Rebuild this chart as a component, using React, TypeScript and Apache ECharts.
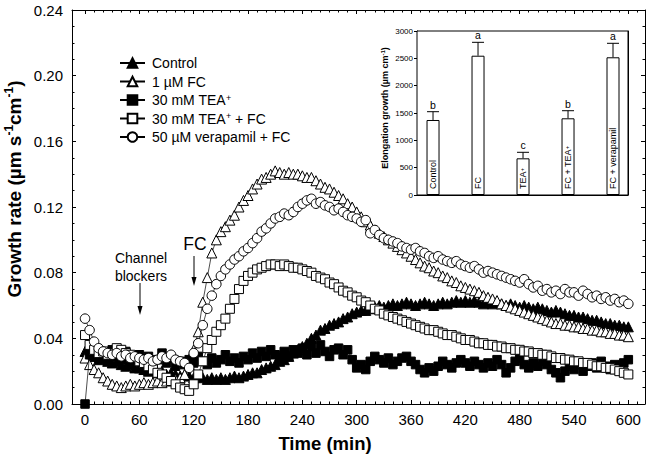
import React, { useEffect, useRef } from 'react';
import * as echarts from 'echarts';

const FONT = '"Liberation Sans", Arial, Helvetica, sans-serif';

// time axis: one reading every 5 min
const times = Array.from({ length: 121 }, (_, i) => i * 5);

const controlVals = [
  0.032, 0.030, 0.029, 0.027, 0.028, 0.026, 0.025, 0.026, 0.024, 0.023, 0.024, 0.022,
  0.022, 0.021, 0.020, 0.021, 0.019, 0.020, 0.018, 0.019, 0.018, 0.017, 0.018, 0.017,
  0.016, 0.017, 0.016, 0.015, 0.016, 0.015, 0.016, 0.015, 0.016, 0.017, 0.016, 0.017,
  0.018, 0.019, 0.019, 0.021, 0.022, 0.023, 0.024, 0.026, 0.027, 0.029, 0.031, 0.033,
  0.035, 0.037, 0.040, 0.042, 0.045, 0.046, 0.048, 0.049, 0.050, 0.052, 0.053, 0.055,
  0.056, 0.057, 0.057, 0.058, 0.059, 0.060, 0.059, 0.060, 0.061, 0.060, 0.061, 0.062,
  0.061, 0.060, 0.061, 0.062, 0.061, 0.060, 0.061, 0.062, 0.061, 0.062, 0.063, 0.062,
  0.063, 0.062, 0.063, 0.062, 0.061, 0.062, 0.061, 0.062, 0.061, 0.060, 0.061, 0.060,
  0.059, 0.060, 0.059, 0.058, 0.059, 0.058, 0.057, 0.056, 0.057, 0.056, 0.055, 0.054,
  0.054, 0.053, 0.053, 0.052, 0.051, 0.051, 0.050, 0.049, 0.049, 0.048, 0.048, 0.047,
  0.047,
];

const fcVals = [
  0.028, 0.024, 0.021, 0.019, 0.016, 0.014, 0.012, 0.011, 0.010, 0.011, 0.012, 0.011,
  0.012, 0.013, 0.012, 0.013, 0.014, 0.013, 0.014, 0.015, 0.015, 0.016, 0.018, 0.024,
  0.033, 0.044, 0.062, 0.077, 0.092, 0.100, 0.105, 0.108, 0.112, 0.115, 0.120, 0.124,
  0.127, 0.131, 0.134, 0.137, 0.138, 0.140, 0.142, 0.141, 0.140, 0.141, 0.140, 0.140,
  0.139, 0.138, 0.138, 0.136, 0.134, 0.132, 0.131, 0.129, 0.127, 0.125, 0.122, 0.120,
  0.117, 0.114, 0.111, 0.109, 0.106, 0.104, 0.102, 0.100, 0.098, 0.096, 0.094, 0.092,
  0.090, 0.088, 0.086, 0.084, 0.083, 0.081, 0.080, 0.078, 0.077, 0.075, 0.074, 0.072,
  0.071, 0.070, 0.069, 0.068, 0.066, 0.065, 0.064, 0.063, 0.061, 0.060, 0.059, 0.058,
  0.057, 0.056, 0.055, 0.054, 0.053, 0.052, 0.051, 0.050, 0.049, 0.049, 0.048, 0.048,
  0.047, 0.047, 0.046, 0.046, 0.045, 0.045, 0.044, 0.044, 0.043, 0.043, 0.042, 0.042,
  0.041,
];

const teaVals = [
  0.000, 0.030, 0.033, 0.028, 0.031, 0.026, 0.033, 0.029, 0.027, 0.032, 0.025, 0.028,
  0.030, 0.026, 0.029, 0.024, 0.027, 0.031, 0.025, 0.028, 0.023, 0.026, 0.024, 0.027,
  0.025, 0.029, 0.026, 0.024, 0.028, 0.025, 0.027, 0.030, 0.026, 0.028, 0.025, 0.029,
  0.027, 0.031, 0.028, 0.032, 0.029, 0.033, 0.030, 0.028, 0.032, 0.029, 0.033, 0.031,
  0.034, 0.030, 0.035, 0.031, 0.036, 0.032, 0.029, 0.033, 0.034, 0.030, 0.033, 0.027,
  0.022, 0.024, 0.021, 0.026, 0.029, 0.027, 0.025, 0.028, 0.024, 0.026, 0.028, 0.029,
  0.026, 0.024, 0.021, 0.019, 0.022, 0.020, 0.023, 0.026, 0.024, 0.022, 0.025, 0.027,
  0.025, 0.023, 0.026, 0.024, 0.022, 0.025, 0.023, 0.027, 0.024, 0.019, 0.022, 0.026,
  0.028, 0.024, 0.022, 0.025, 0.023, 0.026, 0.024, 0.021, 0.019, 0.016, 0.020, 0.023,
  0.021, 0.024, 0.020, 0.023, 0.025, 0.022, 0.026, 0.023, 0.021, 0.024, 0.022, 0.025,
  0.027,
];

const teaFcVals = [
  0.042, 0.036, 0.033, 0.031, 0.032, 0.030, 0.031, 0.034, 0.033, 0.031, 0.030, 0.028,
  0.026, 0.025, 0.023, 0.021, 0.019, 0.018, 0.016, 0.014, 0.012, 0.010, 0.009, 0.008,
  0.012, 0.018, 0.026, 0.034, 0.039, 0.044, 0.048, 0.052, 0.058, 0.064, 0.070, 0.075,
  0.078, 0.080, 0.082, 0.083, 0.084, 0.085, 0.085, 0.084, 0.085, 0.084, 0.083, 0.083,
  0.082, 0.081, 0.080, 0.078, 0.077, 0.076, 0.074, 0.073, 0.071, 0.069, 0.068, 0.066,
  0.065, 0.063, 0.062, 0.060, 0.058, 0.057, 0.055, 0.054, 0.053, 0.052, 0.051, 0.050,
  0.049, 0.048, 0.047, 0.046, 0.045, 0.045, 0.044, 0.043, 0.042, 0.042, 0.041, 0.040,
  0.039, 0.039, 0.038, 0.037, 0.037, 0.036, 0.036, 0.035, 0.035, 0.034, 0.034, 0.033,
  0.033, 0.032, 0.032, 0.031, 0.031, 0.030, 0.030, 0.029, 0.028, 0.028, 0.027, 0.027,
  0.026, 0.026, 0.025, 0.025, 0.024, 0.023, 0.023, 0.022, 0.022, 0.021, 0.020, 0.019,
  0.018,
];

const verapamilVals = [
  0.052, 0.045, 0.038, 0.034, 0.032, 0.031, 0.030, 0.031, 0.029, 0.030, 0.028, 0.029,
  0.028, 0.027, 0.028, 0.026, 0.027, 0.029, 0.028, 0.030, 0.027, 0.026, 0.025, 0.022,
  0.031, 0.037, 0.048, 0.058, 0.066, 0.073, 0.078, 0.082, 0.085, 0.088, 0.090, 0.093,
  0.095, 0.098, 0.101, 0.105, 0.107, 0.110, 0.113, 0.114, 0.116, 0.115, 0.117, 0.120,
  0.122, 0.124, 0.125, 0.122, 0.123, 0.121, 0.120, 0.118, 0.119, 0.117, 0.115, 0.114,
  0.113, 0.111, 0.112, 0.104, 0.106, 0.103, 0.101, 0.100, 0.099, 0.098, 0.096, 0.095,
  0.094, 0.095, 0.093, 0.092, 0.090, 0.089, 0.090, 0.088, 0.087, 0.086, 0.087, 0.085,
  0.084, 0.083, 0.084, 0.082, 0.080, 0.081, 0.080, 0.079, 0.078, 0.077, 0.076, 0.075,
  0.074, 0.076, 0.073, 0.071, 0.072, 0.069, 0.070, 0.068, 0.069, 0.067, 0.070, 0.068,
  0.068, 0.066, 0.069, 0.067, 0.065, 0.066, 0.064, 0.065, 0.063, 0.064, 0.062, 0.063,
  0.061,
];

const seriesNames = ['Control', '1 µM FC', '30 mM TEA⁺', '30 mM TEA⁺ + FC', '50 µM verapamil + FC'];
const xMajorTicks = [0, 60, 120, 180, 240, 300, 360, 420, 480, 540, 600];
const xMinorTicks = [
  10, 20, 30, 40, 50, 70, 80, 90, 100, 110, 130, 140, 150, 160, 170, 190, 200, 210, 220, 230,
  250, 260, 270, 280, 290, 310, 320, 330, 340, 350, 370, 380, 390, 400, 410, 430, 440, 450, 460, 470,
  490, 500, 510, 520, 530, 550, 560, 570, 580, 590, 610,
];

const insetCategories = ['Control', 'FC', 'TEA⁺', 'FC + TEA⁺', 'FC + verapamil'];
const insetMeans = [1372, 2548, 671, 1403, 2519];
const insetUpper = [1524, 2793, 781, 1542, 2775];
const insetLetters = ['b', 'a', 'c', 'b', 'a'];

const supFmt = (s: string) => s.replace(/⁺/g, '{s|+}');

export default function App() {
  const ref = useRef<HTMLDivElement>(null);
  useEffect(() => {
    if (!ref.current) return;
    const chart = echarts.init(ref.current, null, { renderer: 'svg' });

    const styles = [
      { symbol: 'triangle', size: 10, fill: '#000' },
      { symbol: 'triangle', size: 10, fill: '#fff' },
      { symbol: 'rect', size: 8.5, fill: '#000' },
      { symbol: 'rect', size: 9, fill: '#fff' },
      { symbol: 'circle', size: 9.5, fill: '#fff' },
    ];
    const allVals = [controlVals, fcVals, teaVals, teaFcVals, verapamilVals];

    const lineSeries = allVals.map((vals, k) => ({
      type: 'line',
      name: seriesNames[k],
      xAxisIndex: 0,
      yAxisIndex: 0,
      data: times.map((t, i) => [t, vals[i]]),
      symbol: styles[k].symbol,
      symbolSize: styles[k].size,
      showAllSymbol: true,
      lineStyle: { color: '#000', width: 0.7 },
      itemStyle: { color: styles[k].fill, borderColor: '#000', borderWidth: 1 },
      emphasis: { disabled: true },
      z: 2 + k,
    }));

    const axisTxt = { color: '#000', fontFamily: FONT };
    const blackLine = { show: true, lineStyle: { color: '#000', width: 1 } };

    const option: any = {
      animation: false,
      backgroundColor: '#fff',
      textStyle: { fontFamily: FONT },
      grid: [
        { left: 72, right: 5, top: 10, bottom: 52 },
        { left: 417, top: 31, width: 211, height: 164, show: true, backgroundColor: '#fff', borderColor: '#000', borderWidth: 1, z: 10 },
      ],
      legend: {
        data: seriesNames,
        orient: 'vertical',
        left: 114,
        top: 51,
        itemWidth: 25,
        itemHeight: 12,
        itemGap: 4.5,
        selectedMode: false,
        formatter: (n: string) => supFmt(n),
        textStyle: {
          fontSize: 14,
          color: '#000',
          fontFamily: FONT,
          padding: [0, 0, 0, 2],
          rich: { s: { fontSize: 9, verticalAlign: 'top', lineHeight: 8, fontFamily: FONT, color: '#000' } },
        },
      },
      xAxis: [
        {
          gridIndex: 0, type: 'value', position: 'bottom', min: -14.4, max: 618.4,
          axisLine: { ...blackLine, onZero: false },
          axisTick: { show: true, inside: true, length: 4, customValues: xMajorTicks, lineStyle: { color: '#000' } },
          axisLabel: { show: true, customValues: xMajorTicks, fontSize: 15, margin: 8, ...axisTxt },
          splitLine: { show: false },
        },
        {
          gridIndex: 0, type: 'value', position: 'bottom', min: -14.4, max: 618.4,
          axisLine: { show: false, onZero: false },
          axisTick: { show: true, inside: true, length: 2.5, customValues: xMinorTicks, lineStyle: { color: '#000' } },
          axisLabel: { show: false },
          splitLine: { show: false },
        },
        {
          gridIndex: 0, type: 'value', position: 'top', min: -14.4, max: 618.4,
          axisLine: { ...blackLine, onZero: false },
          axisTick: { show: true, inside: true, length: 4, customValues: xMajorTicks, lineStyle: { color: '#000' } },
          axisLabel: { show: false },
          splitLine: { show: false },
        },
        {
          gridIndex: 0, type: 'value', position: 'top', min: -14.4, max: 618.4,
          axisLine: { show: false, onZero: false },
          axisTick: { show: true, inside: true, length: 2.5, customValues: xMinorTicks, lineStyle: { color: '#000' } },
          axisLabel: { show: false },
          splitLine: { show: false },
        },
        {
          gridIndex: 1, type: 'value', position: 'bottom', min: -0.356, max: 4.333,
          axisLine: { ...blackLine, onZero: false },
          axisTick: { show: false },
          axisLabel: { show: false },
          splitLine: { show: false },
        },
      ],
      yAxis: [
        {
          gridIndex: 0, type: 'value', position: 'left', min: 0, max: 0.24, interval: 0.04,
          axisLine: { ...blackLine, onZero: false },
          axisTick: { show: true, inside: true, length: 4, lineStyle: { color: '#000' } },
          minorTick: { show: true, splitNumber: 4, length: 2.5, lineStyle: { color: '#000' } },
          axisLabel: { fontSize: 15, margin: 9, formatter: (v: number) => v.toFixed(2), ...axisTxt },
          splitLine: { show: false },
        },
        {
          gridIndex: 0, type: 'value', position: 'right', min: 0, max: 0.24, interval: 0.04,
          axisLine: { ...blackLine, onZero: false },
          axisTick: { show: true, inside: true, length: 4, lineStyle: { color: '#000' } },
          minorTick: { show: true, splitNumber: 4, length: 2.5, lineStyle: { color: '#000' } },
          axisLabel: { show: false },
          splitLine: { show: false },
        },
        {
          gridIndex: 1, type: 'value', position: 'left', min: 0, max: 3000, interval: 500,
          axisLine: { ...blackLine, onZero: false },
          axisTick: { show: true, inside: false, length: 3, lineStyle: { color: '#000' } },
          axisLabel: { fontSize: 8, margin: 4, formatter: (v: number) => String(v), ...axisTxt },
          splitLine: { show: false },
        },
        {
          gridIndex: 1, type: 'value', position: 'right', min: 0, max: 3000, interval: 500,
          axisLine: { ...blackLine, onZero: false },
          axisTick: { show: true, inside: true, length: 3, lineStyle: { color: '#000' } },
          axisLabel: { show: false },
          splitLine: { show: false },
        },
      ],
      series: [
        ...lineSeries,
        {
          type: 'bar',
          name: 'inset',
          xAxisIndex: 4,
          yAxisIndex: 2,
          barWidth: 13,
          z: 12,
          data: insetMeans.map((v, i) => ({ value: [i, v], name: insetCategories[i] })),
          itemStyle: { color: '#fff', borderColor: '#000', borderWidth: 1 },
          emphasis: { disabled: true },
          label: {
            show: true,
            position: 'insideBottom',
            rotate: 90,
            align: 'left',
            verticalAlign: 'middle',
            distance: 6,
            fontSize: 9,
            color: '#000',
            textBorderWidth: 0,
            fontFamily: FONT,
            formatter: (p: any) => supFmt(p.name),
            rich: { s: { fontSize: 6, verticalAlign: 'top', lineHeight: 5, color: '#000', fontFamily: FONT } },
          },
        },
        {
          type: 'custom',
          name: 'errors',
          xAxisIndex: 4,
          yAxisIndex: 2,
          z: 13,
          data: insetMeans.map((v, i) => [i, v, insetUpper[i]]),
          renderItem: (params: any, api: any) => {
            const x = api.value(0);
            const p0 = api.coord([x, api.value(1)]);
            const p1 = api.coord([x, api.value(2)]);
            return {
              type: 'group',
              children: [
                { type: 'line', shape: { x1: p0[0], y1: p0[1], x2: p1[0], y2: p1[1] }, style: { stroke: '#000', lineWidth: 1 } },
                { type: 'line', shape: { x1: p1[0] - 6, y1: p1[1], x2: p1[0] + 6, y2: p1[1] }, style: { stroke: '#000', lineWidth: 1 } },
                {
                  type: 'text', x: p1[0], y: p1[1] - 1.5,
                  style: { text: insetLetters[params.dataIndex], fontSize: 10.5, fontFamily: FONT, fill: '#000', align: 'center', verticalAlign: 'bottom' },
                },
              ],
            };
          },
        },
      ],
      graphic: [
        {
          type: 'text', x: 14, y: 189, rotation: Math.PI / 2,
          style: {
            text: '{a|Growth rate (µm s}{s|-1}{a|cm}{s|-1}{a|)}',
            align: 'center', verticalAlign: 'middle',
            rich: {
              a: { fontSize: 19, fontWeight: 'bold', fontFamily: FONT, fill: '#000', lineHeight: 22 },
              s: { fontSize: 12, fontWeight: 'bold', fontFamily: FONT, fill: '#000', lineHeight: 10, verticalAlign: 'top' },
            },
          },
        },
        {
          type: 'text', x: 325, y: 443,
          style: { text: 'Time (min)', fontSize: 18.5, fontWeight: 'bold', fontFamily: FONT, fill: '#000', align: 'center', verticalAlign: 'middle' },
        },
        {
          type: 'text', x: 385, y: 108, rotation: Math.PI / 2, z: 20,
          style: {
            text: '{a|Elongation growth (µm cm}{s|-1}{a|)}',
            align: 'center', verticalAlign: 'middle',
            rich: {
              a: { fontSize: 9, fontWeight: 'bold', fontFamily: FONT, fill: '#000', lineHeight: 11 },
              s: { fontSize: 6, fontWeight: 'bold', fontFamily: FONT, fill: '#000', lineHeight: 5, verticalAlign: 'top' },
            },
          },
        },
        { type: 'text', x: 141, y: 258, style: { text: 'Channel', fontSize: 14, fontFamily: FONT, fill: '#000', align: 'center', verticalAlign: 'middle' } },
        { type: 'text', x: 141, y: 276, style: { text: 'blockers', fontSize: 14, fontFamily: FONT, fill: '#000', align: 'center', verticalAlign: 'middle' } },
        { type: 'line', shape: { x1: 140, y1: 283, x2: 140, y2: 309 }, style: { stroke: '#000', lineWidth: 1 } },
        { type: 'polygon', shape: { points: [[137.5, 306], [142.5, 306], [140, 315]] }, style: { fill: '#000' } },
        { type: 'text', x: 195, y: 244, style: { text: 'FC', fontSize: 17.5, fontFamily: FONT, fill: '#000', align: 'center', verticalAlign: 'middle' } },
        { type: 'line', shape: { x1: 194, y1: 256, x2: 194, y2: 279 }, style: { stroke: '#000', lineWidth: 1 } },
        { type: 'polygon', shape: { points: [[191.5, 277], [196.5, 277], [194, 286]] }, style: { fill: '#000' } },
      ],
    };

    chart.setOption(option);
    return () => chart.dispose();
  }, []);

  return (
    <div
      ref={ref}
      style={{ position: 'fixed', left: 0, top: 0, width: 650, height: 456, background: '#fff' }}
    />
  );
}
